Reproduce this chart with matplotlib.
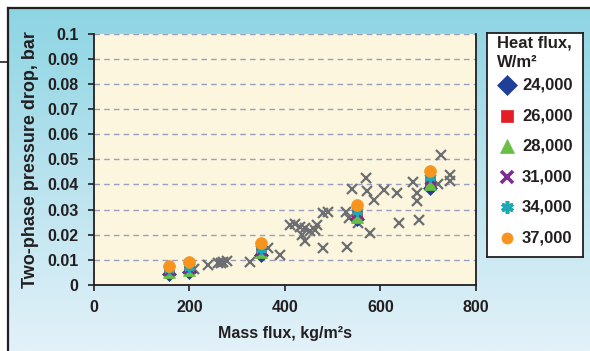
import numpy as np
import matplotlib
matplotlib.use("Agg")
import matplotlib.pyplot as plt
from matplotlib.colors import LinearSegmentedColormap
from matplotlib.lines import Line2D

plt.rcParams['font.family'] = ['Liberation Sans', 'DejaVu Sans']
plt.rcParams['font.weight'] = 'bold'

# group points (mass flux, kg/m2s) for each heat flux
mass_flux = [158, 199, 350, 550, 704]
hf_24000 = [0.0045, 0.0050, 0.0118, 0.0262, 0.0385]
hf_26000 = [0.0058, 0.0066, 0.0150, 0.0282, 0.0410]
hf_28000 = [0.0050, 0.0060, 0.0132, 0.0270, 0.0400]
hf_31000 = [0.0060, 0.0066, 0.0140, 0.0285, 0.0420]
hf_34000 = [0.0062, 0.0072, 0.0145, 0.0295, 0.0430]
hf_37000 = [0.0075, 0.0092, 0.0168, 0.0318, 0.0455]

# other data (gray crosses)
other_x = [209, 238, 259, 266, 271, 278, 327, 364, 390,
           410, 421, 431, 442, 452, 463, 466, 435, 442,
           479, 480, 491, 528, 533, 529, 540, 553, 570, 572,
           579, 586, 607, 634, 639, 668, 676, 676, 681,
           721, 727, 746, 746]
other_y = [0.0064, 0.0078, 0.0086, 0.0089, 0.0093, 0.0097, 0.0092, 0.0146, 0.0120,
           0.0237, 0.0243, 0.0232, 0.0226, 0.0213, 0.0219, 0.0239, 0.0199, 0.0173,
           0.0146, 0.0286, 0.0292, 0.0290, 0.0266, 0.0153, 0.0382, 0.0246, 0.0425, 0.0372,
           0.0206, 0.0339, 0.0378, 0.0365, 0.0246, 0.0410, 0.0365, 0.0334, 0.0259,
           0.0403, 0.0515, 0.0438, 0.0412]

labels = ["24,000", "26,000", "28,000", "31,000", "34,000", "37,000"]
values = [hf_24000, hf_26000, hf_28000, hf_31000, hf_34000, hf_37000]
colors = ['#1f3f99', '#e31e24', '#6abd45', '#7b2f8e', '#1fa8b4', '#f7941d']
markers = ['D', 's', '^', 'x', (6, 2, 0), 'o']
sizes = [7, 6.5, 8, 7, 8, 8.5]
leg_sizes = [10, 8.5, 10, 8, 9, 8]

dark = '#231f20'
W, H = 590, 351
fig = plt.figure(figsize=(W / 100, H / 100), dpi=100)

# gradient panel behind the chart
bg = fig.add_axes([8 / W, 0, 1 - 8 / W, 343 / H], zorder=-1)
cmap = LinearSegmentedColormap.from_list('panel', ['#8dd5e3', '#b9e3ee', '#e3f1f9'])
grad = np.linspace(0, 1, 256).reshape(-1, 1)
bg.imshow(grad, aspect='auto', cmap=cmap, extent=[0, 1, 0, 1])
bg.set_xticks([])
bg.set_yticks([])
for side in ['right', 'bottom']:
    bg.spines[side].set_visible(False)
for side in ['left', 'top']:
    bg.spines[side].set_color(dark)
    bg.spines[side].set_linewidth(1.6)
fig.add_artist(Line2D([0, 8 / W], [1 - 62 / H] * 2, color=dark, lw=1.2))

ax = fig.add_axes([94 / W, 66 / H, 382 / W, 251.5 / H])
ax.set_facecolor('#fcf6de')
ax.set_xlim(0, 800)
ax.set_ylim(0, 0.1)
ax.set_xticks([0, 200, 400, 600, 800])
yt = np.round(np.arange(0, 0.101, 0.01), 2)
ax.set_yticks(yt)
ax.set_yticklabels(['0'] + ['%g' % v for v in yt[1:]])
ax.yaxis.grid(True, ls=(0, (4, 3)), color='#9a9fbf', lw=1)
ax.set_axisbelow(True)
ax.spines['top'].set_visible(False)
for side in ['left', 'bottom', 'right']:
    ax.spines[side].set_color(dark)
    ax.spines[side].set_linewidth(1.3)
ax.tick_params(axis='both', direction='out', length=4, width=1.2, color=dark,
               labelcolor=dark, pad=7)
ax.tick_params(axis='y', labelsize=11.5)
ax.tick_params(axis='x', labelsize=11.5)
for lab in ax.get_xticklabels() + ax.get_yticklabels():
    lab.set_fontweight('bold')

ax.plot(other_x, other_y, ls='none', marker='x', color='#6d6e71', ms=7.5, mew=1.6)

for vals, c, m, s in zip(values, colors, markers, sizes):
    mew = 2.2 if m in ('x', (6, 2, 0)) else 0.5
    ax.plot(mass_flux, vals, ls='none', marker=m, ms=s, mec=c, mfc=c, mew=mew)

ax.set_xlabel('Mass flux, kg/m²s', fontsize=11.5, fontweight='bold', color=dark, labelpad=8)
ax.set_ylabel('Two-phase pressure drop, bar', fontsize=13, fontweight='bold',
              color=dark, labelpad=6)

# legend box
lax = fig.add_axes([487 / W, 94 / H, 96 / W, 224 / H])
lax.set_xlim(0, 96)
lax.set_ylim(224, 0)
lax.set_xticks([])
lax.set_yticks([])
for sp in lax.spines.values():
    sp.set_color(dark)
    sp.set_linewidth(1.3)
lax.text(10, 2, 'Heat flux,\nW/m²', fontsize=12, fontweight='bold', color=dark,
         va='top', ha='left', linespacing=1.4)
for i, (lab, c, m, s) in enumerate(zip(labels, colors, markers, leg_sizes)):
    y = 52 + i * 30.6
    mew = 2.6 if m in ('x', (6, 2, 0)) else 0.5
    lax.plot([20], [y], ls='none', marker=m, ms=s, mec=c, mfc=c, mew=mew)
    lax.text(35, y, lab, fontsize=12, fontweight='bold', color=dark, va='center', ha='left')

fig.savefig('out.png', dpi=100)
